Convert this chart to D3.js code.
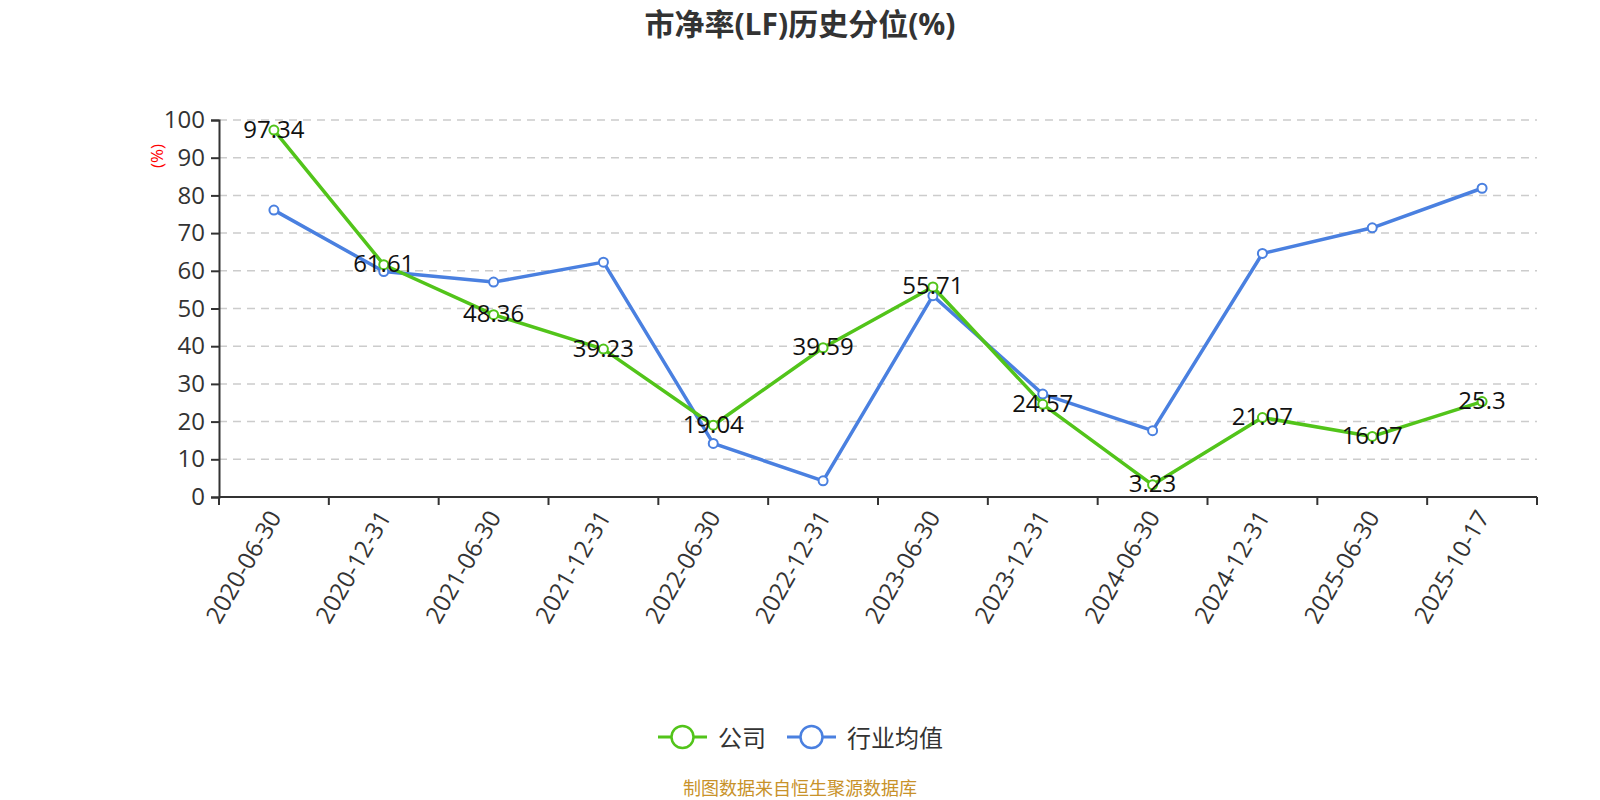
<!DOCTYPE html>
<html>
<head>
<meta charset="utf-8">
<script src="https://cdn.jsdelivr.net/npm/d3@7"></script>
<style>
body { margin: 0; background: #fff; }
</style>
</head>
<body>
<script>
const w = 1600
const h = 800
const font = "'Open Sans', 'Noto Sans CJK SC', sans-serif"

// data
const dates = ["2020-06-30", "2020-12-31", "2021-06-30", "2021-12-31", "2022-06-30", "2022-12-31",
	"2023-06-30", "2023-12-31", "2024-06-30", "2024-12-31", "2025-06-30", "2025-10-17"]
const company = [97.34, 61.61, 48.36, 39.23, 19.04, 39.59, 55.71, 24.57, 3.23, 21.07, 16.07, 25.3]
const industry = [76.1, 59.8, 57.0, 62.3, 14.2, 4.3, 53.4, 27.3, 17.6, 64.6, 71.4, 81.9]
const yTicks = [0, 10, 20, 30, 40, 50, 60, 70, 80, 90, 100]
const seriesNames = ["公司", "行业均值"]
const colors = ["#52c41a", "#4a80e0"]

const plotLeft = 219, plotRight = 1537, plotTop = 120, plotBottom = 497

let svg = d3.select("body").append("svg")
	.attr("width", w)
	.attr("height", h)
	.style("font-family", font)

let xScale = d3.scaleBand()
	.domain(dates)
	.range([plotLeft, plotRight])

let yScale = d3.scaleLinear()
	.domain([0, 100])
	.range([plotBottom, plotTop])

// grid
svg.append("g")
	.selectAll("line")
	.data(yTicks.filter(d => d > 0))
	.enter()
	.append("line")
	.attr("x1", plotLeft)
	.attr("x2", plotRight)
	.attr("y1", d => yScale(d))
	.attr("y2", d => yScale(d))
	.attr("stroke", "#ccc")
	.attr("stroke-width", 1.5)
	.attr("stroke-dasharray", "8,6")

// y axis
let yAxis = d3.axisLeft(yScale).tickValues(yTicks).tickSize(8).tickPadding(6)
let gy = svg.append("g")
	.attr("transform", "translate(" + plotLeft + ",0)")
	.call(yAxis)
gy.select(".domain").attr("stroke", "#333").attr("stroke-width", 2)
gy.selectAll(".tick line").attr("stroke", "#333").attr("stroke-width", 2)
gy.selectAll(".tick text").attr("font-size", 24).attr("fill", "#333").attr("font-family", font)

svg.append("text")
	.attr("transform", "translate(156,156) rotate(-90)")
	.attr("text-anchor", "middle")
	.attr("dominant-baseline", "central")
	.attr("font-size", 17)
	.attr("fill", "red")
	.text("(%)")

// x axis
let xAxis = d3.axisBottom(xScale).tickSize(0).tickPadding(0)
let gx = svg.append("g")
	.attr("transform", "translate(0," + plotBottom + ")")
	.call(xAxis)
gx.select(".domain").remove()
svg.append("line")
	.attr("x1", plotLeft).attr("x2", plotRight)
	.attr("y1", plotBottom).attr("y2", plotBottom)
	.attr("stroke", "#333").attr("stroke-width", 2)
svg.append("g")
	.selectAll("line")
	.data(dates.concat(["end"]))
	.enter()
	.append("line")
	.attr("x1", (d, i) => plotLeft + i * xScale.step())
	.attr("x2", (d, i) => plotLeft + i * xScale.step())
	.attr("y1", plotBottom)
	.attr("y2", plotBottom + 8)
	.attr("stroke", "#333").attr("stroke-width", 2)
gx.selectAll(".tick text")
	.attr("font-size", 24)
	.attr("fill", "#333")
	.attr("font-family", font)
	.attr("text-anchor", "end")
	.attr("dy", null)
	.attr("y", 0)
	.attr("dominant-baseline", "central")
	.attr("transform", "translate(0,15) rotate(-60)")

// lines
let cx = d => xScale(d) + xScale.bandwidth() / 2
let line = d3.line()
	.x((d, i) => cx(dates[i]))
	.y(d => yScale(d))

let drawSeries = function(values, color) {
	svg.append("path")
		.datum(values)
		.attr("d", line)
		.attr("fill", "none")
		.attr("stroke", color)
		.attr("stroke-width", 3.5)
		.attr("stroke-linejoin", "round")
	svg.append("g")
		.selectAll("circle")
		.data(values)
		.enter()
		.append("circle")
		.attr("cx", (d, i) => cx(dates[i]))
		.attr("cy", d => yScale(d))
		.attr("r", 4.5)
		.attr("fill", "#fff")
		.attr("stroke", color)
		.attr("stroke-width", 2)
}
drawSeries(industry, colors[1])
drawSeries(company, colors[0])

// labels on company series
svg.append("g")
	.selectAll("text")
	.data(company)
	.enter()
	.append("text")
	.attr("x", (d, i) => cx(dates[i]))
	.attr("y", d => yScale(d) - 2)
	.attr("text-anchor", "middle")
	.attr("dominant-baseline", "central")
	.attr("font-size", 24)
	.attr("fill", "#111")
	.text(d => d)

// title
svg.append("text")
	.attr("x", 800)
	.attr("y", 23)
	.attr("text-anchor", "middle")
	.attr("dominant-baseline", "central")
	.attr("font-size", 30)
	.attr("font-weight", "bold")
	.attr("fill", "#333")
	.text("市净率(LF)历史分位(%)")

// legend
let legendX = [658, 787]
let legend = svg.append("g")
	.selectAll("g")
	.data(seriesNames)
	.enter()
	.append("g")
	.attr("transform", (d, i) => "translate(" + legendX[i] + ",737)")
legend.append("line")
	.attr("x1", 0).attr("x2", 49)
	.attr("stroke", (d, i) => colors[i])
	.attr("stroke-width", 3)
legend.append("circle")
	.attr("cx", 24.5)
	.attr("r", 11)
	.attr("fill", "#fff")
	.attr("stroke", (d, i) => colors[i])
	.attr("stroke-width", 2.5)
legend.append("text")
	.attr("x", 60)
	.attr("dominant-baseline", "central")
	.attr("font-size", 24)
	.attr("fill", "#333")
	.text(d => d)

// footer
svg.append("text")
	.attr("x", 800)
	.attr("y", 788)
	.attr("text-anchor", "middle")
	.attr("dominant-baseline", "central")
	.attr("font-size", 18)
	.attr("fill", "#c8922a")
	.text("制图数据来自恒生聚源数据库")
</script>
</body>
</html>
